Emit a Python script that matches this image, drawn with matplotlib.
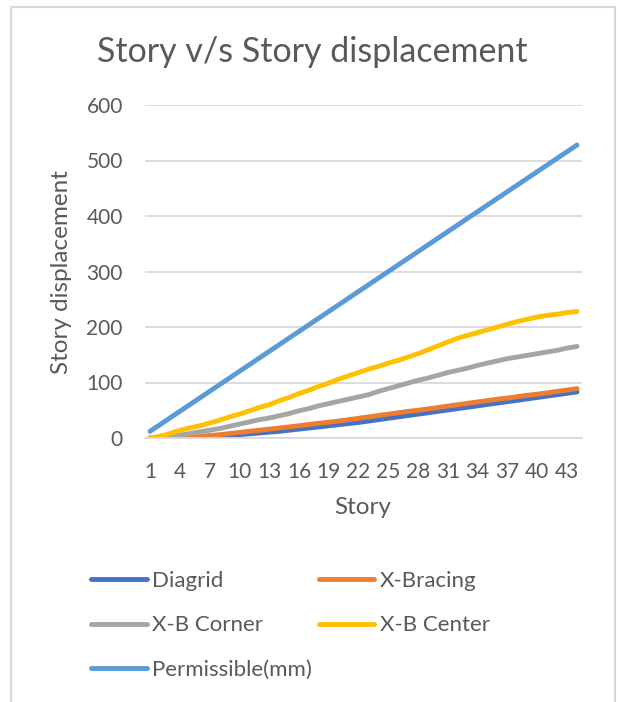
import numpy as np
import matplotlib.pyplot as plt
from matplotlib.patches import Rectangle

plt.rcParams['font.family'] = ['Lato', 'DejaVu Sans']

# story numbers and displacement values
stories = list(range(1, 45))
diagrid = [0, 0, 0.5, 1, 1.5, 2, 3, 4, 5, 6, 7.5, 9, 10.5, 12, 14, 16, 18, 20, 22, 24, 26, 28,
           30.5, 33, 35.5, 38, 40.5, 43, 45.5, 48, 50.5, 53, 55.5, 58, 60.5, 63, 65.5, 68, 70.5,
           73, 75.5, 78, 80.5, 83]
x_bracing = [0, 0, 0.5, 1, 2, 3, 4.5, 6, 8, 10, 12, 14, 16, 18, 20, 22, 24.5, 26.5, 28.5, 30.5,
             33, 35.5, 38, 40.5, 43, 45.5, 48, 50, 52.5, 55, 57.5, 60, 62.5, 65, 67.5, 70, 72,
             74.5, 77, 79, 81.5, 84, 86.5, 89]
xb_corner = [0, 1, 3, 5, 8, 11, 14, 17, 21, 25, 29, 33, 36, 40, 44, 49, 53, 58, 62, 66, 70, 74,
             78, 84, 89, 94, 99, 104, 108, 113, 118, 122, 126, 131, 135, 139, 143, 146, 149,
             152, 155, 158, 162, 165]
xb_center = [0, 3, 8, 14, 18, 22, 27, 32, 38, 43, 49, 55, 60, 67, 73, 80, 86, 93, 99, 106, 112,
             118, 124, 129, 135, 140, 146, 152, 159, 166, 173, 180, 185, 190, 195, 200, 205,
             210, 214, 218, 221, 223, 226, 228]
permissible = [12, 24, 36, 48, 60, 72, 84, 96, 108, 120, 132, 144, 156, 168, 180, 192, 204,
               216, 228, 240, 252, 264, 276, 288, 300, 312, 324, 336, 348, 360, 372, 384, 396,
               408, 420, 432, 444, 456, 468, 480, 492, 504, 516, 528]

series = [("Diagrid", diagrid, "#4472C4"),
          ("X-Bracing", x_bracing, "#ED7D31"),
          ("X-B Corner", xb_corner, "#A5A5A5"),
          ("X-B Center", xb_center, "#FFC000"),
          ("Permissible(mm)", permissible, "#5B9BD5")]

W, H = 618, 702
fig = plt.figure(figsize=(W / 100, H / 100), dpi=100)
txt = "#595959"

# chart frame
fig.patches.append(Rectangle((11 / W, -0.01), (615 - 11) / W, 1 - 7 / H + 0.01,
                             transform=fig.transFigure, fill=False,
                             edgecolor="#D9D9D9", linewidth=1.5))

ax = fig.add_axes([145 / W, 1 - 438 / H, (582 - 145) / W, (438 - 105) / H])
lines = []
for name, vals, col in series:
    ln, = ax.plot(stories, vals, color=col, linewidth=3.5, solid_capstyle="round", label=name)
    lines.append(ln)

ax.set_xlim(0.5, 44.5)
ax.set_ylim(0, 600)
ax.set_yticks(range(0, 601, 100))
ax.set_xticks(stories[::3])
ax.grid(axis="y", color="#D9D9D9", linewidth=1.3)
ax.set_axisbelow(True)
for s in ["top", "right", "left"]:
    ax.spines[s].set_visible(False)
ax.spines["bottom"].set_color("#D9D9D9")
ax.spines["bottom"].set_linewidth(1.3)
ax.tick_params(length=0, labelsize=15, labelcolor=txt)
ax.tick_params(axis="y", pad=16)
ax.tick_params(axis="x", pad=17)

fig.text(312 / W, 1 - 52 / H, "Story v/s Story displacement", ha="center", va="center",
         fontsize=24.5, color=txt)
fig.text(363 / W, 1 - 507 / H, "Story", ha="center", va="center", fontsize=17.5, color=txt)
fig.text(62 / W, 1 - 272 / H, "Story displacement", ha="center", va="center",
         rotation=90, fontsize=17.5, color=txt)

# legend filled column by column, so reorder to get row order as in excel
order = [0, 2, 4, 1, 3]
leg = fig.legend(handles=[lines[i] for i in order], ncol=2, loc="upper left",
                 bbox_to_anchor=(80 / W, 1 - 560 / H), borderpad=0,
                 frameon=False, fontsize=16, labelcolor=txt, handlelength=2.5,
                 handletextpad=0.25, columnspacing=0.3, labelspacing=1.09)

fig.savefig("out.png", dpi=100)
